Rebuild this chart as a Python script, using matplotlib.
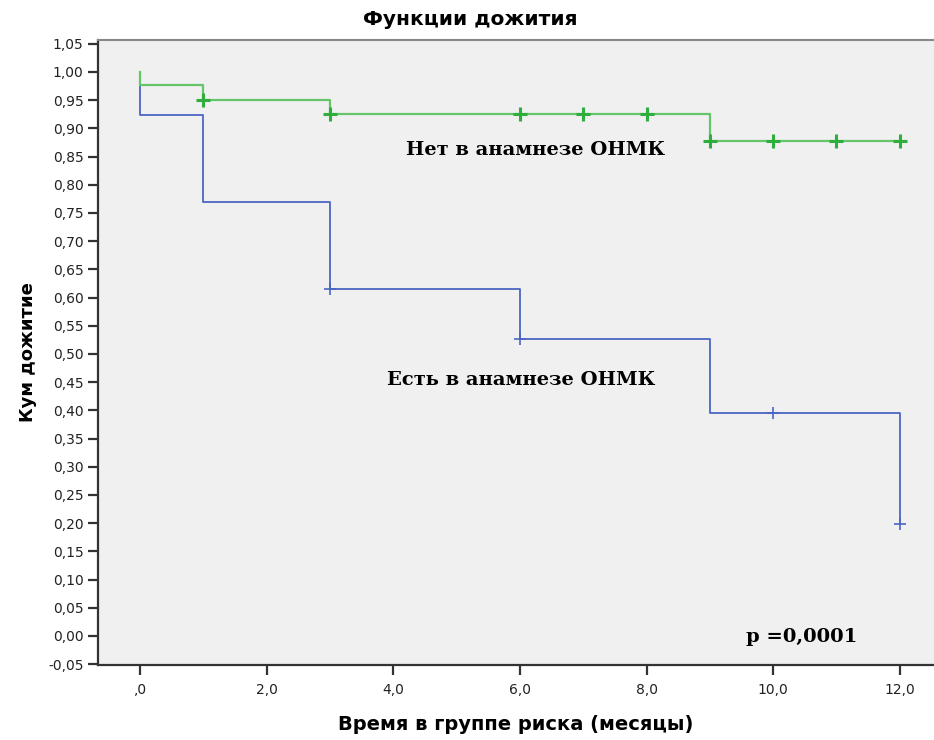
import matplotlib.pyplot as plt

# survival steps: (time, survival after event)
green_t = [0, 0, 1, 3, 9, 12]
green_s = [1.0, 0.976, 0.951, 0.926, 0.878, 0.878]
green_cens_t = [1, 3, 6, 7, 8, 9, 10, 11, 12]
green_cens_s = [0.951, 0.926, 0.926, 0.926, 0.926, 0.878, 0.878, 0.878, 0.878]

blue_t = [0, 0, 1, 3, 6, 9, 12, 12]
blue_s = [1.0, 0.923, 0.769, 0.615, 0.527, 0.395, 0.395, 0.198]
blue_cens_t = [3, 6, 10, 12]
blue_cens_s = [0.615, 0.527, 0.395, 0.198]

y_ticks = [i * 0.05 for i in range(-1, 22)]
x_ticks = [0, 2, 4, 6, 8, 10, 12]


def fmt(v, nd):
    s = f"{v:.{nd}f}".replace(".", ",")
    if s.startswith("0,") and nd == 1:
        s = s[1:]
    return s


fig = plt.figure(figsize=(9.34, 7.4), dpi=100)
ax = fig.add_axes([0.105, 0.1014, 0.895, 0.8446])
ax.set_facecolor("#f0f0f0")

ax.step(blue_t, blue_s, where="post", color="#4a66c4", lw=1.3, zorder=2)
ax.plot(blue_cens_t, blue_cens_s, ls="none", marker="+", ms=9, mew=1.2,
        color="#4a66c4", zorder=3)
ax.step(green_t, green_s, where="post", color="#66c46a", lw=1.6, zorder=4)
ax.plot(green_cens_t, green_cens_s, ls="none", marker="+", ms=10, mew=2.2,
        color="#2fae3e", zorder=5)

ax.set_xlim(-0.663, 12.54)
ax.set_ylim(-0.0514, 1.0567)
ax.set_yticks(y_ticks)
ax.set_yticklabels([fmt(v, 2) for v in y_ticks])
ax.set_xticks(x_ticks)
ax.set_xticklabels([fmt(v, 1) for v in x_ticks])
ax.tick_params(axis="both", direction="out", length=7, width=1.6,
               color="#333333", labelsize=10, labelcolor="#222222")
ax.tick_params(axis="x", pad=6)

ax.spines["right"].set_visible(False)
ax.spines["top"].set_color("#888888")
ax.spines["top"].set_linewidth(1.5)
ax.spines["left"].set_color("#333333")
ax.spines["left"].set_linewidth(1.6)
ax.spines["bottom"].set_color("#333333")
ax.spines["bottom"].set_linewidth(1.6)

fig.text(0.504, 0.973, "Функции дожития", fontsize=14.5, fontweight="bold",
         ha="center", va="center")
ax.set_xlabel("Время в группе риска (месяцы)", fontsize=14,
              fontweight="bold", labelpad=13)
ax.set_ylabel("Кум дожитие", fontsize=13, fontweight="bold", labelpad=8)

ax.text(6.24, 0.862, "Нет в анамнезе ОНМК", family="DejaVu Serif",
        fontsize=14, fontweight="bold", ha="center", va="center")
ax.text(6.02, 0.454, "Есть в анамнезе ОНМК", family="DejaVu Serif",
        fontsize=14, fontweight="bold", ha="center", va="center")
ax.text(10.45, -0.002, "p =0,0001", family="DejaVu Serif",
        fontsize=14, fontweight="bold", ha="center", va="center")

fig.savefig("out.png", dpi=100)
